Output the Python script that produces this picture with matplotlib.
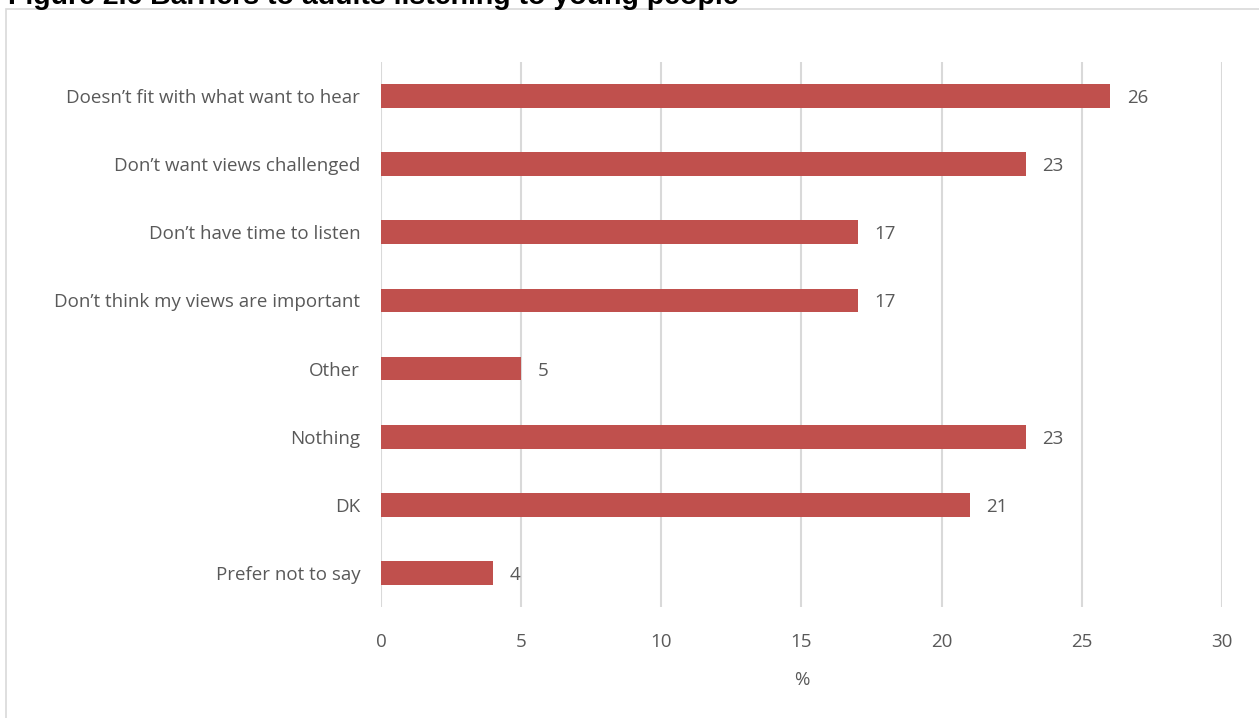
import matplotlib
matplotlib.use("Agg")
import matplotlib.pyplot as plt
from matplotlib.patches import Rectangle

categories = [
    "Doesn\u2019t fit with what want to hear",
    "Don\u2019t want views challenged",
    "Don\u2019t have time to listen",
    "Don\u2019t think my views are important",
    "Other",
    "Nothing",
    "DK",
    "Prefer not to say",
]
values = [26, 23, 17, 17, 5, 23, 21, 4]
x_ticks = [0, 5, 10, 15, 20, 25, 30]

BAR = "#C0504D"
TEXT = "#595959"
GRID = "#D9D9D9"
FONT = "Open Sans"
FS = 13.5

W, H = 1259, 718
fig = plt.figure(figsize=(W / 100, H / 100), dpi=100)
fig.patch.set_facecolor("white")

# chart frame
fig.patches.append(Rectangle((6 / W, -0.01), 1.2, (H - 9) / H + 0.01,
                             transform=fig.transFigure, fill=False,
                             edgecolor="#D9D9D9", linewidth=1.2))

fig.text(8 / W, 1 - 4 / H, "Figure 2.6 Barriers to adults listening to young people",
         fontsize=20.5, fontweight="bold", family="Liberation Sans",
         color="black", va="baseline", ha="left")

left, right = 381 / W, 1222 / W
top, bottom = 62 / H, 607 / H
ax = fig.add_axes([left, 1 - bottom, right - left, bottom - top])

y = list(range(len(categories)))
ax.barh(y, values, height=0.35, color=BAR, zorder=3)
for yi, v in zip(y, values):
    ax.text(v + 0.6, yi, str(v), va="center_baseline", ha="left", fontsize=FS,
            color=TEXT, family=FONT)

ax.set_xlim(0, 30)
ax.set_ylim(len(categories) - 0.5, -0.5)
ax.set_xticks(x_ticks)
ax.set_xticklabels([str(t) for t in x_ticks], fontsize=FS, color=TEXT, family=FONT)
ax.set_yticks(y)
ax.set_yticklabels(categories, fontsize=FS, color=TEXT, family=FONT)
ax.tick_params(axis="both", length=0)
ax.tick_params(axis="x", pad=19)
ax.tick_params(axis="y", pad=15)
ax.xaxis.grid(True, color=GRID, linewidth=1.5, zorder=0)
for s in ax.spines.values():
    s.set_visible(False)
ax.set_xlabel("%", fontsize=FS, color=TEXT, family=FONT, labelpad=14)

fig.savefig("out.png", dpi=100, facecolor="white")
